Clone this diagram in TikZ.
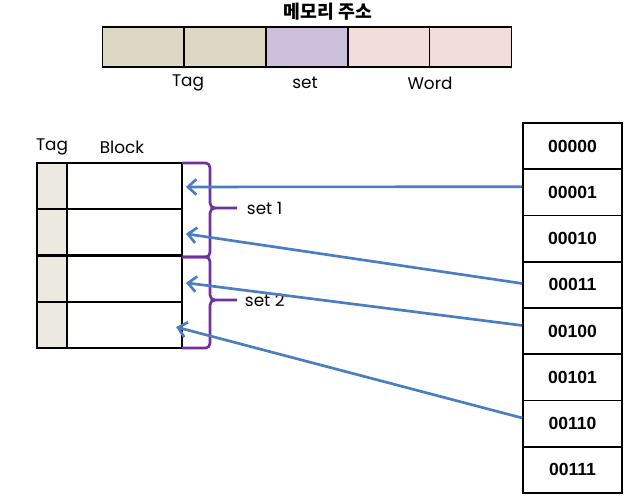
\documentclass[tikz,border=0pt]{standalone}
\usepackage{fontspec}
\setmainfont{Poppins}
\newfontfamily\kofont{Noto Sans CJK KR}
\newfontfamily\numfont{Liberation Sans}
\usetikzlibrary{arrows.meta}
\definecolor{tagcol}{HTML}{DDD8C4}
\definecolor{setcol}{HTML}{CCC0DD}
\definecolor{wordcol}{HTML}{F2DCDC}
\definecolor{tagpale}{HTML}{ECE9E0}
\definecolor{linkblue}{HTML}{4A7EC1}
\definecolor{bracepurple}{HTML}{7030A0}

\begin{document}
\begin{tikzpicture}[x=0.025cm,y=-0.025cm,
	field/.style={draw=black,line width=1.3pt,minimum width=2.05cm,minimum height=1cm,inner sep=0pt},
	line/.style={draw=black,line width=1.6pt,minimum height=1.16cm,inner sep=0pt},
	memcell/.style={draw=black,line width=1.1pt,minimum width=2.475cm,minimum height=1.156cm,inner sep=0pt,font=\numfont\bfseries\fontsize{12.5}{14}\selectfont},
	link/.style={draw=linkblue,line width=1.9pt,-{Straight Barb[length=6pt,width=11pt,line width=1.9pt]}},
	setbrace/.style={draw=bracepurple,line width=1.9pt},
	lbl/.style={font=\fontsize{12}{14}\selectfont}]
\useasboundingbox (0,0) rectangle (640,504);
% memory address
\node[font=\kofont\bfseries\fontsize{13}{15}\selectfont] (title) at (328,12) {메모리 주소};
\node[field,fill=tagcol] (f1) at (143.5,47) {};
\node[field,fill=tagcol] (f2) at (225,47) {};
\node[field,fill=setcol] (f3) at (307,47) {};
\node[field,fill=wordcol] (f4) at (389,47) {};
\node[field,fill=wordcol] (f5) at (470.5,47) {};
\node[lbl] (ltag) at (188,83) {Tag};
\node[lbl] (lset) at (305,83) {set};
\node[lbl] (lword) at (430,83) {Word};
% cache
\node[lbl] (htag) at (52,147) {Tag};
\node[lbl] (hblock) at (122,147) {Block};
\node[line,fill=tagpale,minimum width=0.75cm] (t1) at (52,186.1) {};
\node[line,fill=tagpale,minimum width=0.75cm] (t2) at (52,232.4) {};
\node[line,fill=tagpale,minimum width=0.75cm] (t3) at (52,278.6) {};
\node[line,fill=tagpale,minimum width=0.75cm] (t4) at (52,324.9) {};
\node[line,minimum width=2.875cm] (c1) at (124.5,186.1) {};
\node[line,minimum width=2.875cm] (c2) at (124.5,232.4) {};
\node[line,minimum width=2.875cm] (c3) at (124.5,278.6) {};
\node[line,minimum width=2.875cm] (c4) at (124.5,324.9) {};
% sets
\draw[setbrace] (182,163) -- (206,163) to[out=0,in=90] (210,168) -- (210,203) to[out=-90,in=180] (215,208) -- (237,208);
\draw[setbrace] (215,208) to[out=180,in=90] (210,213) -- (210,252) to[out=-90,in=0] (206,257) -- (182,257);
\draw[setbrace] (182,257) -- (206,257) to[out=0,in=90] (210,262) -- (210,295) to[out=-90,in=180] (215,300) -- (237,300);
\draw[setbrace] (215,300) to[out=180,in=90] (210,305) -- (210,343) to[out=-90,in=0] (206,348) -- (182,348);
\node[lbl,anchor=west] (s1) at (242,208) {set 1};
\node[lbl,anchor=west] (s2) at (240,300) {set 2};
% main memory
\node[memcell] (m0) at (572.5,146.1) {00000};
\node[memcell] (m1) at (572.5,192.4) {00001};
\node[memcell] (m2) at (572.5,238.6) {00010};
\node[memcell] (m3) at (572.5,284.9) {00011};
\node[memcell] (m4) at (572.5,331.1) {00100};
\node[memcell] (m5) at (572.5,377.4) {00101};
\node[memcell] (m6) at (572.5,423.6) {00110};
\node[memcell] (m7) at (572.5,469.9) {00111};
\draw[link] ([yshift=4pt]m1.west) -- ([xshift=2pt,yshift=-0.6pt]c1.east);
\draw[link] ([yshift=1pt]m3.west) -- ([xshift=2pt,yshift=-1pt]c2.east);
\draw[link] ([yshift=4pt]m4.west) -- ([xshift=2pt,yshift=-3pt]c3.east);
\draw[link] ([yshift=4pt]m6.west) -- ([xshift=-5pt,yshift=-1.5pt]c4.east);
\end{tikzpicture}
\end{document}
